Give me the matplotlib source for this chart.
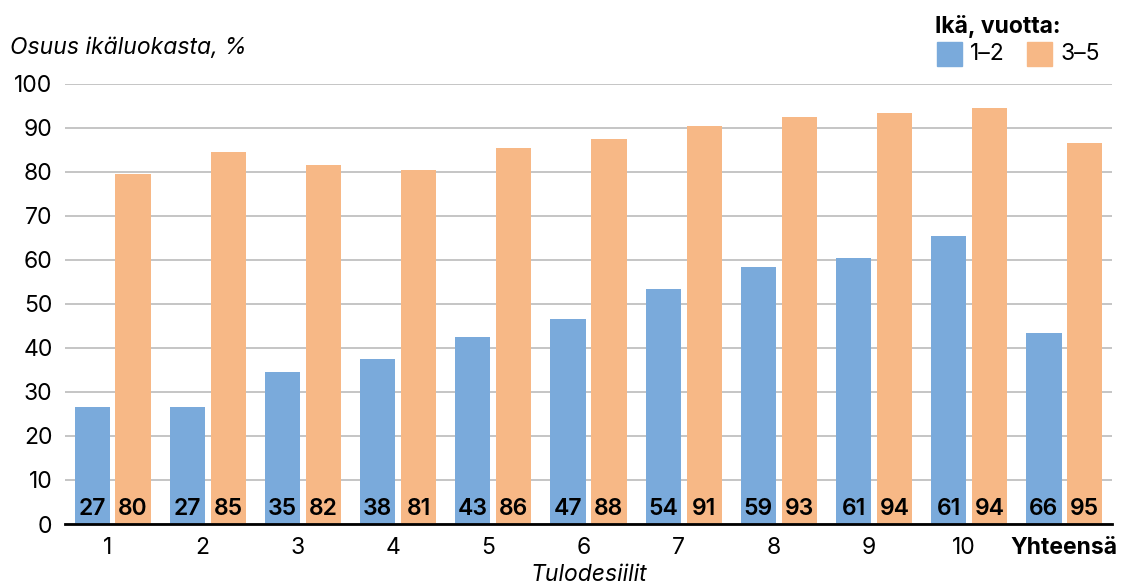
import matplotlib
matplotlib.use("Agg")
import matplotlib.pyplot as plt
import numpy as np

plt.rcParams['font.family'] = ['Inter', 'DejaVu Sans']

groups = ['1', '2', '3', '4', '5', '6', '7', '8', '9', '10', 'Yhteensä']
age_1_2 = [26.5, 26.5, 34.5, 37.5, 42.5, 46.5, 53.5, 58.5, 60.5, 65.5, 43.5]
age_3_5 = [79.5, 84.5, 81.5, 80.5, 85.5, 87.5, 90.5, 92.5, 93.5, 94.5, 86.5]
labels_1_2 = [27, 27, 35, 38, 43, 47, 54, 59, 61, 61, 66]
labels_3_5 = [80, 85, 82, 81, 86, 88, 91, 93, 94, 94, 95]

blue = '#7AAADB'
orange = '#F7B886'

fig = plt.figure(figsize=(11.25, 5.86), dpi=100)
ax = fig.add_axes([0.0578, 0.1058, 0.9306, 0.7509])

x = np.arange(len(groups))
w = 0.37
off = 0.215
ax.bar(x - off, age_1_2, w, color=blue, zorder=2)
ax.bar(x + off, age_3_5, w, color=orange, zorder=2)

for xi, a, b in zip(x, labels_1_2, labels_3_5):
    ax.text(xi - off, 0.8, str(a), ha='center', va='bottom', fontsize=16.5,
            fontweight='semibold', color='black', zorder=3)
    ax.text(xi + off, 0.8, str(b), ha='center', va='bottom', fontsize=16.5,
            fontweight='semibold', color='black', zorder=3)

ax.set_xlim(-0.5, 10.5)
ax.set_ylim(0, 100)
ax.set_yticks(range(0, 101, 10))
ax.yaxis.grid(True, color='#b5b5b5', linewidth=1.1, zorder=0)
ax.set_axisbelow(True)
for s in ['top', 'right', 'left']:
    ax.spines[s].set_visible(False)
ax.spines['bottom'].set_color('black')
ax.spines['bottom'].set_linewidth(2)
ax.spines['bottom'].set_zorder(4)
ax.tick_params(axis='y', length=0, labelsize=16.5, pad=9)
ax.tick_params(axis='x', length=0, labelsize=16.5, pad=9)
# decile labels sit a little left of their bar pair
tick_pos = np.where(x < 10, x - 0.055, x)
ax.set_xticks(tick_pos)
ax.set_xticklabels(groups)
ax.get_xticklabels()[-1].set_fontweight('bold')

ax.set_xlabel('Tulodesiilit', fontsize=16.5, style='italic', labelpad=4)
fig.text(0.009, 0.9, 'Osuus ikäluokasta, %', fontsize=16.5, style='italic',
         ha='left', va='bottom')

fig.text(0.831, 0.955, 'Ikä, vuotta:', fontsize=16.5, fontweight='bold',
         ha='left', va='center')
fig.patches.append(plt.Rectangle((937 / 1125, 1 - 66 / 586), 25 / 1125, 24 / 586,
                                 transform=fig.transFigure, color=blue))
fig.text(970 / 1125, 1 - 54 / 586, '1–2', fontsize=16.5, ha='left', va='center')
fig.patches.append(plt.Rectangle((1027 / 1125, 1 - 66 / 586), 25 / 1125, 24 / 586,
                                 transform=fig.transFigure, color=orange))
fig.text(1061 / 1125, 1 - 54 / 586, '3–5', fontsize=16.5, ha='left', va='center')

fig.savefig('out.png', dpi=100)
